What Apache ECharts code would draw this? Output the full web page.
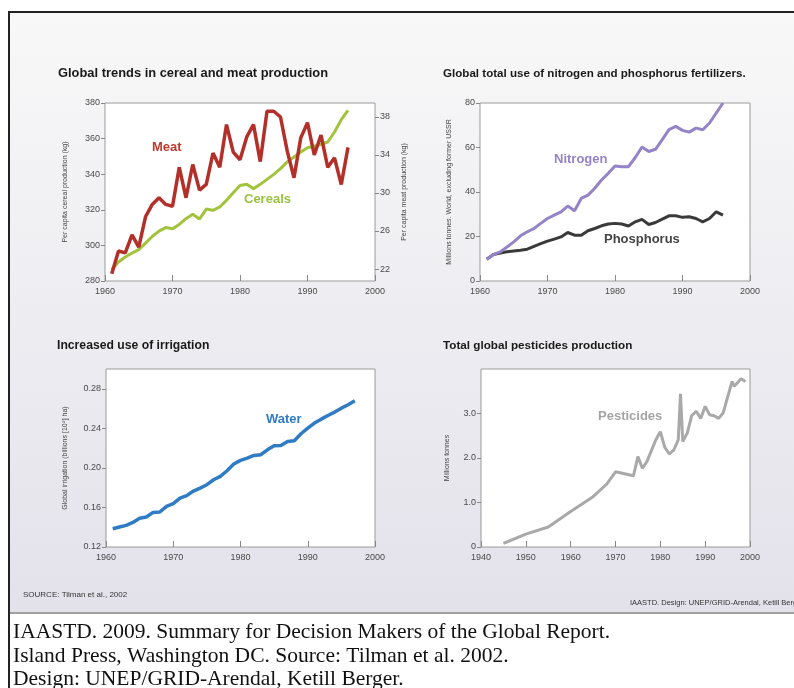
<!DOCTYPE html>
<html><head><meta charset="utf-8">
<script src="https://cdn.jsdelivr.net/npm/echarts@6/dist/echarts.min.js"></script>
<style>
html,body{margin:0;padding:0;background:#fff;width:794px;height:688px;overflow:hidden}
#panel{position:absolute;left:8px;top:11px;width:800px;height:599px;border-top:2px solid #222;border-bottom:2px solid #a0a0a0;background:linear-gradient(#f8f8f8,#e3e2eb)}
#leftline{position:absolute;left:8px;top:11px;width:2px;height:690px;background:#222}
#chart{position:absolute;left:0;top:0;width:794px;height:688px}
</style></head>
<body>
<div id="panel"></div><div id="leftline"></div>
<div id="chart"></div>
<script>
// ---- Data ----
const years6196 = [1961,1962,1963,1964,1965,1966,1967,1968,1969,1970,1971,1972,1973,1974,1975,1976,1977,1978,1979,1980,1981,1982,1983,1984,1985,1986,1987,1988,1989,1990,1991,1992,1993,1994,1995,1996];
const cereals = [286.4,290.7,293.5,295.7,297.6,301.3,305,308,310,309.4,311.8,315,317.5,314.8,320.4,319.7,321.6,325.3,329.6,333.7,334.3,331.9,334.3,337.1,339.9,343.1,346.9,349.7,352.5,354.9,355.7,356.8,358.1,363.7,370.6,375.9];
const meat = [21.5,23.9,23.7,25.6,24.3,27.5,28.8,29.5,28.8,28.6,32.7,29.5,33.0,30.3,30.9,34.2,32.7,37.2,34.3,33.5,35.9,37.2,33.3,38.6,38.6,38.0,34.4,31.6,35.8,37.4,34.0,36.1,32.7,33.7,30.9,34.8];
const nitrogen = [9.8,11.9,13.1,15.3,17.6,20.3,22.1,23.6,25.9,28.1,29.6,31.1,33.7,31.6,37.1,38.6,41.7,45.4,48.4,51.7,51.4,51.4,55.5,60.2,58.2,59.2,63.5,68,69.5,67.7,66.9,68.7,68,71,75.5,80];
const phosphorus = [9.8,11.9,12.6,13.1,13.5,13.8,14.3,15.6,16.8,17.9,18.8,19.8,21.8,20.6,20.6,22.6,23.6,24.8,25.6,25.9,25.6,24.7,26.6,27.7,25.4,26.3,27.8,29.3,29.3,28.6,28.9,28.1,26.6,28.1,31.1,29.6];
const years6197 = [1961,1962,1963,1964,1965,1966,1967,1968,1969,1970,1971,1972,1973,1974,1975,1976,1977,1978,1979,1980,1981,1982,1983,1984,1985,1986,1987,1988,1989,1990,1991,1992,1993,1994,1995,1996,1997];
const water = [0.1385,0.1402,0.1419,0.1449,0.149,0.1503,0.155,0.1554,0.1611,0.1638,0.1695,0.1719,0.1766,0.1796,0.183,0.188,0.1914,0.1971,0.2039,0.2076,0.2099,0.2126,0.2133,0.2183,0.2224,0.2227,0.2268,0.2274,0.2345,0.2402,0.2453,0.2493,0.253,0.2564,0.2604,0.2638,0.2679];
const pestYears = [1945,1950,1955,1960,1965,1968,1970,1974,1975,1976,1977,1979,1980,1981,1982,1983,1984,1984.5,1985,1986,1987,1988,1989,1990,1991,1992,1993,1994,1996,1996.5,1998,1999];
const pesticides = [0.08,0.29,0.45,0.80,1.13,1.41,1.69,1.60,2.03,1.77,1.92,2.41,2.59,2.24,2.09,2.18,2.41,3.44,2.37,2.56,2.95,3.05,2.89,3.16,2.97,2.95,2.89,3.01,3.72,3.61,3.78,3.72];
const cerealTicks = [280,300,320,340,360,380];
const meatTicks = [22,26,30,34,38];
const fertTicks = [0,20,40,60,80];
const waterTicks = [0.12,0.16,0.20,0.24,0.28];
const pestTicks = [0,1,2,3];

const pair = (xs, ys) => xs.map((x, i) => [x, ys[i]]);
const chart = echarts.init(document.getElementById('chart'), null, {renderer: 'canvas'});
const F = 'Liberation Sans, Arial, sans-serif';
const lbl = {color: '#4a4a4a', fontSize: 9, fontFamily: F};
const nameStyle = {color: '#444', fontSize: 7, fontFamily: F};

function xAx(gi, min) {
  return {type: 'value', gridIndex: gi, min: min, max: 2000, interval: 10,
    axisLine: {show: false}, splitLine: {show: false},
    axisTick: {inside: true, length: 6, lineStyle: {color: '#888'}},
    axisLabel: Object.assign({margin: 6, formatter: v => String(v)}, lbl)};
}
function yAx(gi, min, max, ticks, fmt, name, gap, pos) {
  return {type: 'value', gridIndex: gi, min: min, max: max, position: pos || 'left',
    name: name, nameLocation: 'middle', nameGap: gap, nameRotate: 90, nameTextStyle: nameStyle,
    axisLine: {show: false}, splitLine: {show: false},
    axisTick: {show: true, length: 4, customValues: ticks, lineStyle: {color: '#888'}},
    axisLabel: Object.assign({customValues: ticks, formatter: fmt, margin: 5}, lbl)};
}
const gridBase = {show: true, backgroundColor: '#fff', borderColor: '#9a9a9a', borderWidth: 1};

function ts(size) { return {fontFamily: F, fontSize: size, fontWeight: 'bold', fill: '#1a1a1a'}; }
function txt(x, y, s, style) {
  return {type: 'text', left: x, top: y, style: Object.assign({text: s}, style)};
}
const serif = {fontFamily: 'Liberation Serif, Times New Roman, serif', fontSize: 21.5, fill: '#111'};

chart.setOption({
  animation: false,
  grid: [
    Object.assign({left: 105, top: 103, width: 270, height: 178}, gridBase),
    Object.assign({left: 480, top: 103, width: 270, height: 178}, gridBase),
    Object.assign({left: 106, top: 369, width: 269, height: 178}, gridBase),
    Object.assign({left: 481, top: 369, width: 269, height: 178}, gridBase)
  ],
  xAxis: [xAx(0, 1960), xAx(1, 1960), xAx(2, 1960), xAx(3, 1940)],
  yAxis: [
    yAx(0, 280, 380, cerealTicks, v => String(v), 'Per capita cereal production (kg)', 36),
    yAx(0, 20.74, 39.47, meatTicks, v => String(v), 'Per capita meat production (kg)', 26, 'right'),
    yAx(1, 0, 80, fertTicks, v => String(v), 'Millions tonnes. World, excluding former USSR', 27),
    yAx(2, 0.12, 0.30, waterTicks, v => v.toFixed(2), 'Global irrigation (billions [10⁹] ha)', 37),
    yAx(3, 0, 4, pestTicks, v => v === 0 ? '0' : v.toFixed(1), 'Millions tonnes', 30)
  ],
  series: [
    {type: 'line', name: 'Cereals', xAxisIndex: 0, yAxisIndex: 0, data: pair(years6196, cereals), showSymbol: false,
      lineStyle: {color: '#a2c43c', width: 3}},
    {type: 'line', name: 'Meat', xAxisIndex: 0, yAxisIndex: 1, data: pair(years6196, meat), showSymbol: false,
      lineStyle: {color: '#b3302a', width: 3.5}},
    {type: 'line', name: 'Phosphorus', xAxisIndex: 1, yAxisIndex: 2, data: pair(years6196, phosphorus), showSymbol: false,
      lineStyle: {color: '#3a3a3a', width: 3}},
    {type: 'line', name: 'Nitrogen', xAxisIndex: 1, yAxisIndex: 2, data: pair(years6196, nitrogen), showSymbol: false,
      lineStyle: {color: '#9583c8', width: 3}},
    {type: 'line', name: 'Water', xAxisIndex: 2, yAxisIndex: 3, data: pair(years6197, water), showSymbol: false,
      lineStyle: {color: '#2f7cc5', width: 3.5}},
    {type: 'line', name: 'Pesticides', xAxisIndex: 3, yAxisIndex: 4, data: pair(pestYears, pesticides), showSymbol: false,
      lineStyle: {color: '#a9a9a9', width: 3}}
  ],
  graphic: [
    txt(58, 67, 'Global trends in cereal and meat production', ts(12.9)),
    txt(443, 68, 'Global total use of nitrogen and phosphorus fertilizers.', ts(11.6)),
    txt(57, 340, 'Increased use of irrigation', ts(12.2)),
    txt(443, 340, 'Total global pesticides production', ts(11.7)),
    txt(152, 141, 'Meat', {fontFamily: F, fontSize: 13, fontWeight: 'bold', fill: '#c0392b'}),
    txt(244, 193, 'Cereals', {fontFamily: F, fontSize: 13, fontWeight: 'bold', fill: '#9cc240'}),
    txt(554, 153, 'Nitrogen', {fontFamily: F, fontSize: 13, fontWeight: 'bold', fill: '#9583c8'}),
    txt(604, 233, 'Phosphorus', {fontFamily: F, fontSize: 13, fontWeight: 'bold', fill: '#444'}),
    txt(266, 413, 'Water', {fontFamily: F, fontSize: 13, fontWeight: 'bold', fill: '#2f7cc5'}),
    txt(598, 410, 'Pesticides', {fontFamily: F, fontSize: 13, fontWeight: 'bold', fill: '#a5a5a5'}),
    txt(23, 591, 'SOURCE: Tilman et al., 2002', {fontFamily: F, fontSize: 8, fill: '#333'}),
    txt(630, 599, 'IAASTD. Design: UNEP/GRID-Arendal, Ketill Berger', {fontFamily: F, fontSize: 7.5, fill: '#333'}),
    txt(13, 621, 'IAASTD. 2009. Summary for Decision Makers of the Global Report.', serif),
    txt(13, 645, 'Island Press, Washington DC. Source: Tilman et al. 2002.', serif),
    txt(13, 668, 'Design: UNEP/GRID-Arendal, Ketill Berger.', serif)
  ]
});
</script>
</body></html>
